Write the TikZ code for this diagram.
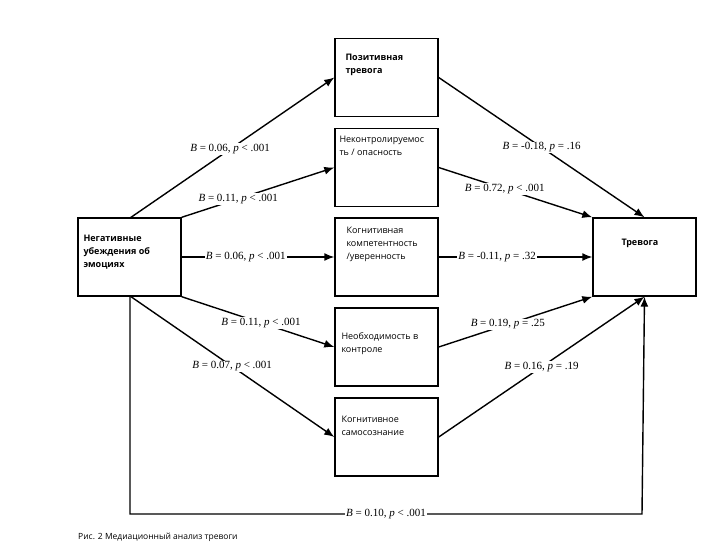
\documentclass[tikz,border=0pt]{standalone}
\usepackage{fontspec}
\setmainfont{Liberation Serif}
\newfontfamily\boxfont{Open Sans}
\usetikzlibrary{positioning,arrows.meta}

\begin{document}
\begin{tikzpicture}[x=1pt,y=-1pt,
  box/.style={draw,line width=1.4pt,minimum width=103pt,minimum height=78pt,inner sep=0pt},
  txt/.style={anchor=north west,align=left,inner sep=0pt,font=\boxfont\fontsize{9}{13}\selectfont},
  btxt/.style={txt,font=\boxfont\bfseries\fontsize{9}{13}\selectfont},
  lab/.style={fill=white,inner sep=1pt,font=\fontsize{11}{12}\selectfont},
  arr/.style={line width=1.4pt,-{Latex[length=10pt,width=8pt]}}]
\useasboundingbox (0,0) rectangle (728,559);
% boxes
\node[box] (neg) at (129.5,257) {};
\node[box] (pos) at (386.5,77.5) {};
\node[box] (unc) at (386.5,167.5) {};
\node[box] (cog) at (386.5,257) {};
\node[box] (need) at (386.5,347) {};
\node[box] (self) at (386.5,437) {};
\node[box] (anx) at (644.5,257) {};
% box texts
\node[btxt,below right=18pt and 6pt of neg.north west] {Негативные\\убеждения об\\эмоциях};
\node[btxt,below right=16pt and 11pt of pos.north west] {Позитивная\\тревога};
\node[txt,below right=8pt and 5pt of unc.north west] {Неконтролируемос\\ть / опасность};
\node[txt,below right=10pt and 12pt of cog.north west] {Когнитивная\\компетентность\\/уверенность};
\node[txt,below right=25pt and 7pt of need.north west] {Необходимость в\\контроле};
\node[txt,below right=19pt and 7pt of self.north west] {Когнитивное\\самосознание};
\node[btxt,below right=22pt and 29pt of anx.north west] {Тревога};
% paths from the predictor
\coordinate (negA) at (130,218);
\coordinate (negB) at (130,296);
\coordinate (corner) at (130,514);
\coordinate (corner2) at (642,514);
\draw[arr] (negA) -- node[lab,pos=0.49] {\textit{B} = 0.06, \textit{p} < .001} (pos.west);
\draw[arr] (neg.north east) -- node[lab,pos=0.37] {\textit{B} = 0.11, \textit{p} < .001} (unc.west);
\draw[arr] (neg.east) -- node[lab,pos=0.42] {\textit{B} = 0.06, \textit{p} < .001} (cog.west);
\draw[arr] (neg.south east) -- node[lab,pos=0.52] {\textit{B} = 0.11, \textit{p} < .001} (need.west);
\draw[arr] (negB) -- node[lab,pos=0.5] {\textit{B} = 0.07, \textit{p} < .001} (self.west);
% paths to the outcome
\draw[arr] (pos.east) -- node[lab,pos=0.5] {\textit{B} = -0.18, \textit{p} = .16} (anx.north);
\draw[arr] (unc.east) -- node[lab,pos=0.43] {\textit{B} = 0.72, \textit{p} < .001} (anx.north west);
\draw[arr] (cog.east) -- node[lab,pos=0.38] {\textit{B} = -0.11, \textit{p} = .32} (anx.west);
\draw[arr] (need.east) -- node[lab,pos=0.45] {\textit{B} = 0.19, \textit{p} = .25} (anx.south west);
\draw[arr] (self.east) -- node[lab,pos=0.5] {\textit{B} = 0.16, \textit{p} = .19} (anx.south);
% direct effect
\draw[arr] (negB) -- (corner) -- node[lab,pos=0.5] {\textit{B} = 0.10, \textit{p} < .001} (corner2) -- (anx.south);
% caption
\node[anchor=west,inner sep=0pt,font=\boxfont\fontsize{8.5}{10}\selectfont] (cap) at (78,537) {Рис. 2 Медиационный анализ тревоги};
\end{tikzpicture}
\end{document}
